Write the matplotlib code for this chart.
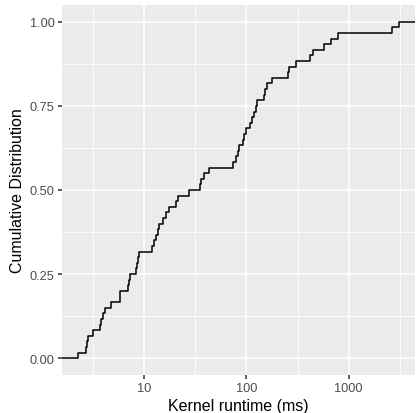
import numpy as np
import matplotlib
matplotlib.use("Agg")
import matplotlib.pyplot as plt
from matplotlib.ticker import FixedLocator, NullFormatter

# kernel runtimes in ms
runtimes_ms = [
    2.25, 2.70, 2.77, 2.83, 3.15, 3.66, 3.80, 3.94, 4.09, 4.73,
    5.78, 5.85, 7.00, 7.15, 7.31, 8.27, 8.55, 8.69, 8.80, 11.9,
    12.5, 13.0, 13.5, 14.0, 15.1, 16.5, 17.5, 20.5, 21.3, 27.4,
    35.0, 36.3, 38.0, 42.8, 74.3, 79.1, 82.7, 84.2, 92.1, 94.6,
    100.0, 108.6, 113.6, 118.2, 123.6, 127.0, 149.6, 151.9, 158.1, 178.8,
    257.5, 259.8, 305.8, 422.9, 447.2, 578.2, 673.2, 782.1, 2633.0, 3106.0,
]
x_breaks = [10, 100, 1000]
x_minor = [10 ** 0.5, 10 ** 1.5, 10 ** 2.5, 10 ** 3.5]
y_breaks = [0.0, 0.25, 0.5, 0.75, 1.0]
y_minor = [0.125, 0.375, 0.625, 0.875]

plt.rcParams["font.family"] = ["Liberation Sans", "DejaVu Sans"]

fig = plt.figure(figsize=(4.16, 4.14), dpi=100)
ax = fig.add_axes([62 / 416, 38 / 414, 353 / 416, 370 / 414])
ax.set_facecolor("#EBEBEB")
for s in ax.spines.values():
    s.set_visible(False)

vals = np.sort(np.array(runtimes_ms))
n = len(vals)
lo, hi = np.log10(vals[0]), np.log10(vals[-1])
pad = 0.05 * (hi - lo)
xmin, xmax = 10 ** (lo - pad), 10 ** (hi + pad)

ax.set_xscale("log")
ax.set_xlim(xmin, xmax)
ax.set_ylim(-0.05, 1.05)

# grid
for v in x_minor:
    ax.axvline(v, color="white", lw=0.55, zorder=0)
for v in y_minor:
    ax.axhline(v, color="white", lw=0.55, zorder=0)
for v in x_breaks:
    ax.axvline(v, color="white", lw=1.1, zorder=0)
for v in y_breaks:
    ax.axhline(v, color="white", lw=1.1, zorder=0)

xs = np.concatenate([[xmin], vals, [xmax]])
ys = np.concatenate([[0.0], np.arange(1, n + 1) / n, [1.0]])
ax.step(xs, ys, where="post", color="black", lw=1.1, zorder=3)

ax.xaxis.set_major_locator(FixedLocator(x_breaks))
ax.xaxis.set_minor_locator(FixedLocator([]))
ax.xaxis.set_minor_formatter(NullFormatter())
ax.set_xticklabels([str(v) for v in x_breaks])
ax.set_yticks(y_breaks)
ax.set_yticklabels(["%.2f" % v for v in y_breaks])
ax.tick_params(axis="both", which="major", length=2.9, width=1.1, color="#333333",
               labelcolor="#4D4D4D", labelsize=9.2, pad=2.5)

ax.set_xlabel("Kernel runtime (ms)", fontsize=11.5, color="black", labelpad=2.5)
ax.set_ylabel("Cumulative Distribution", fontsize=11.5, color="black", labelpad=3.5)

fig.savefig("out.png", dpi=100)
